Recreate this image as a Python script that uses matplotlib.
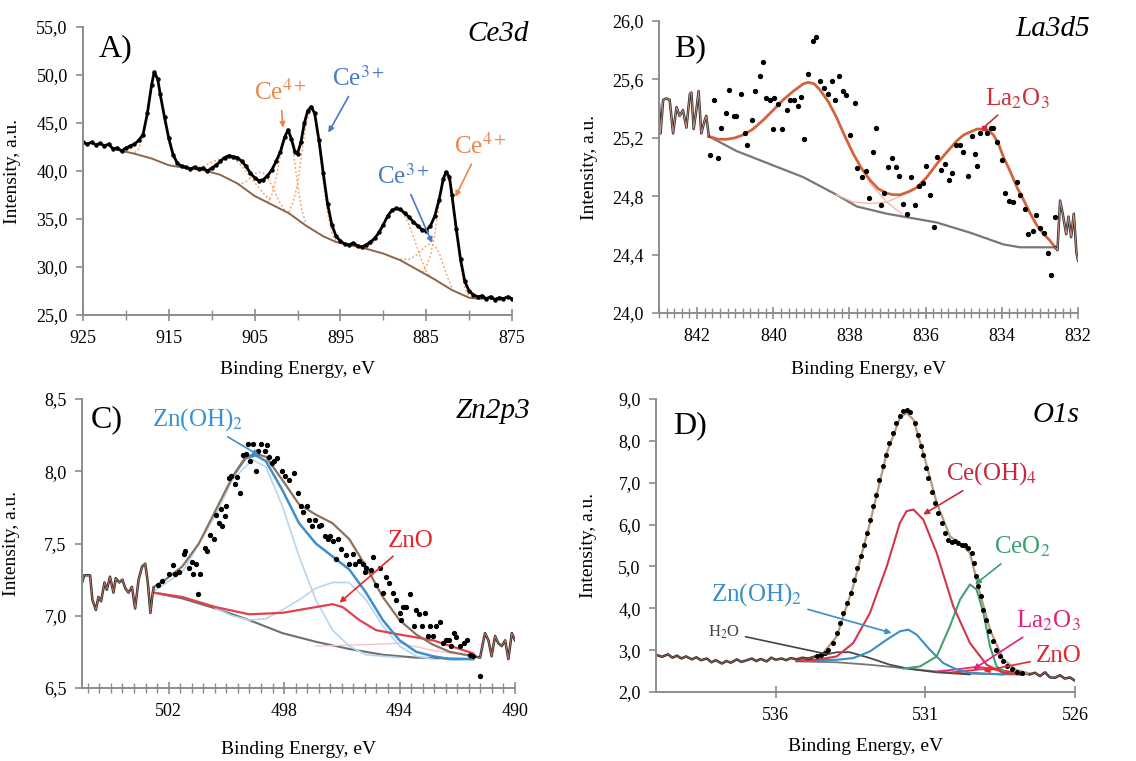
import matplotlib
matplotlib.use('Agg')
import matplotlib.pyplot as plt
from matplotlib.ticker import FixedLocator, FuncFormatter
import numpy as np

plt.rcParams['font.family'] = ['Liberation Serif', 'DejaVu Serif']
plt.rcParams['mathtext.fontset'] = 'stix'

# ---------------- Panel A: Ce3d ----------------
A_E = [925, 924.5, 924, 923.5, 923, 922.5, 922, 921.5, 921, 920.5, 920, 919.5, 919, 918.5, 918,
       917.5, 917, 916.7, 916.3, 916,
       915.5, 915, 914.5, 914, 913.5, 913, 912.5, 912, 911.5, 911, 910.5, 910, 909.5, 909, 908.5,
       908, 907.5, 907, 906.5, 906, 905.5, 905, 904.5, 904, 903.5, 903, 902.5, 902, 901.5,
       901.1, 900.7, 900.3, 900, 899.6, 899.2, 898.8, 898.4,
       898, 897.5, 897, 896.5, 896, 895.5, 895, 894.5, 894, 893.5, 893, 892.5, 892, 891.5, 891,
       890.5, 890, 889.5, 889, 888.5, 888, 887.5, 887, 886.5, 886, 885.5, 885, 884.5, 884, 883.5, 883,
       882.7, 882.3,
       882, 881.5, 881, 880.5, 880, 879.5, 879, 878.5, 878, 877.5, 877, 876.5, 876, 875.5, 875]
A_I = [43.0, 42.8, 43.0, 42.7, 42.9, 42.6, 42.8, 42.3, 42.4, 42.1, 42.4, 42.6, 42.8, 43.2, 43.8,
       46.0, 49.0, 50.3, 49.6, 48.0,
       45.6, 43.4, 41.7, 40.8, 40.5, 40.4, 40.2, 40.4, 40.2, 40.3, 40.0, 40.3, 40.6, 41.0, 41.4,
       41.6, 41.5, 41.4, 41.0, 40.5, 39.8, 39.3, 39.0, 39.1, 39.5, 40.1, 41.0, 42.0, 43.5,
       44.3, 43.3, 42.0, 41.8, 43.0, 45.0, 46.3, 46.7,
       46.0, 43.2, 39.8, 36.6, 34.4, 33.2, 32.7, 32.4, 32.3, 32.5, 32.2, 32.1, 32.3, 32.6, 33.0,
       33.6, 34.4, 35.3, 35.9, 36.1, 36.0, 35.6, 35.2, 34.7, 34.3, 33.9, 33.8, 34.3, 35.3, 37.0, 39.2,
       39.9, 39.4,
       37.5, 34.0, 30.8, 28.5, 27.5, 27.1, 26.9, 27.0, 26.7, 26.9, 26.6, 26.8, 26.7, 26.9, 26.7]
A_bg_E = [921, 919, 917, 915, 913, 911, 909, 907, 905, 903, 901, 899, 897, 895.5, 894, 892, 890,
          888, 886, 884, 882, 880, 879, 878, 876.5]
A_bg_I = [42.2, 41.8, 41.3, 40.6, 40.3, 40.1, 39.6, 38.7, 37.4, 36.5, 35.6, 34.3, 33.2, 32.6, 32.3,
          31.9, 31.4, 30.7, 29.7, 28.7, 27.6, 26.8, 26.7, 26.7, 26.7]
A_comp_E = [
    [919, 918.5, 918, 917.5, 917, 916.7, 916.3, 916, 915.5, 915, 914.5, 914, 913.5],
    [912, 911, 910, 909, 908.5, 908, 907.5, 907, 906, 905, 904, 903],
    [907, 906.5, 906, 905.5, 905, 904.5, 904, 903.5, 903, 902.5, 902, 901.5],
    [903.5, 903, 902.5, 902, 901.5, 901.1, 900.7, 900.3, 900, 899.5, 899],
    [901, 900.5, 900, 899.5, 899, 898.4, 898, 897.5, 897, 896.5, 896, 895.5],
    [892, 891, 890, 889.5, 889, 888.5, 888, 887.5, 887, 886.5, 886, 885.5, 885, 884.5],
    [889, 888, 887, 886, 885.5, 885, 884.5, 884, 883.5, 883, 882.5, 882],
    [885.5, 885, 884.5, 884, 883.5, 883, 882.7, 882.3, 882, 881.5, 881, 880.5, 880],
]
A_comp_I = [
    [41.9, 42.3, 43.5, 46.0, 49.0, 50.2, 49.4, 47.8, 45.3, 43.0, 41.6, 40.7, 40.4],
    [40.3, 40.5, 40.9, 41.3, 41.5, 41.5, 41.4, 41.0, 40.0, 38.8, 37.7, 36.8],
    [38.6, 38.7, 38.9, 39.3, 39.7, 39.9, 39.8, 39.3, 38.5, 37.5, 36.6, 35.9],
    [36.7, 37.5, 39.2, 41.6, 43.5, 44.2, 43.2, 40.8, 38.6, 35.9, 34.5],
    [35.7, 36.8, 38.6, 41.8, 45.0, 46.6, 45.8, 42.6, 38.8, 35.6, 33.6, 32.7],
    [32.0, 32.7, 34.4, 35.4, 35.9, 36.1, 35.9, 35.3, 34.4, 33.2, 31.9, 30.6, 29.6, 28.9],
    [31.0, 30.8, 30.8, 31.3, 31.8, 32.2, 32.4, 32.2, 31.5, 30.2, 28.9, 27.8],
    [29.4, 30.0, 31.2, 33.4, 36.5, 39.2, 39.7, 38.8, 37.2, 33.6, 30.2, 27.8, 26.9],
]

# ---------------- Panel B: La3d5 ----------------
B_noiseL_E = [843.0, 842.96, 842.89, 842.81, 842.72, 842.63, 842.54, 842.46, 842.37, 842.28,
              842.19, 842.15, 842.09, 842.02, 841.96, 841.89, 841.80, 841.76, 841.69]
B_noiseL_I = [25.43, 25.23, 25.46, 25.47, 25.46, 25.23, 25.41, 25.35, 25.39, 25.27,
              25.50, 25.51, 25.26, 25.39, 25.52, 25.23, 25.32, 25.35, 25.21]
B_noiseR_E = [832.60, 832.54, 832.47, 832.40, 832.31, 832.25, 832.18, 832.11, 832.04, 832.0]
B_noiseR_I = [24.45, 24.43, 24.77, 24.68, 24.54, 24.66, 24.52, 24.68, 24.41, 24.36]
B_env_E = [841.69, 841.45, 841.23, 841.0, 840.79, 840.53, 840.27, 840.0, 839.74, 839.47, 839.21,
           839.08, 838.93, 838.78, 838.56, 838.34, 838.12, 837.90, 837.68, 837.46, 837.24, 837.02,
           836.85, 836.67, 836.45, 836.23, 835.97, 835.71, 835.45, 835.18, 835.0, 834.83, 834.65,
           834.48, 834.35, 834.22, 834.09, 833.96, 833.78, 833.60, 833.42, 833.25, 833.08, 832.90,
           832.75, 832.60]
B_env_I = [25.21, 25.19, 25.19, 25.20, 25.22, 25.26, 25.32, 25.39, 25.46, 25.52, 25.57,
           25.58, 25.57, 25.53, 25.45, 25.34, 25.21, 25.09, 24.99, 24.91, 24.85, 24.82,
           24.81, 24.81, 24.83, 24.86, 24.93, 25.02, 25.10, 25.18, 25.22, 25.24, 25.26,
           25.26, 25.25, 25.22, 25.16, 25.07, 24.97, 24.86, 24.77, 24.68, 24.60, 24.54,
           24.50, 24.45]
B_bg_E = [841.69, 840.97, 840.09, 839.21, 838.34, 837.81, 837.02, 836.58, 835.71, 834.83, 833.96,
          833.52, 832.60]
B_bg_I = [25.21, 25.11, 25.02, 24.93, 24.81, 24.73, 24.68, 24.66, 24.62, 24.55, 24.47, 24.45, 24.45]
B_c1_E = [838.34, 837.90, 837.46, 837.02, 836.63]
B_c1_I = [25.34, 25.09, 24.89, 24.76, 24.68]
B_c2_E = [838.34, 837.90, 837.46, 837.02, 836.58, 836.23]
B_c2_I = [24.81, 24.76, 24.75, 24.76, 24.81, 24.86]
B_dot_E = [841.55, 841.36, 841.66, 841.45, 841.25, 841.16, 841.04, 840.98, 840.86, 840.73, 840.68,
           840.57, 840.47, 840.35, 840.27, 840.18, 840.09, 839.99, 840.00, 839.87, 839.77, 839.65,
           839.56, 839.46, 839.36, 839.26, 839.19, 839.08, 838.97, 838.88, 838.78, 838.67, 838.57,
           838.47, 838.38, 838.27, 838.18, 838.09, 837.99, 837.86, 837.79, 837.68, 837.57, 837.49,
           837.39, 837.29, 837.18, 837.09, 836.98, 836.89, 836.78, 836.69, 836.60, 836.48, 836.39,
           836.28, 836.17, 836.08, 835.99, 835.88, 835.78, 835.71, 835.60, 835.49, 835.38, 835.31,
           835.20, 835.11, 835.01, 834.90, 834.79, 834.70, 834.64, 834.57, 834.48, 834.39, 834.29,
           834.22, 834.13, 834.00, 833.91, 833.80, 833.71, 833.60, 833.52, 833.39, 833.30, 833.19,
           833.10, 833.01, 832.90, 832.80, 832.70, 832.60]
B_dot_I = [25.46, 25.27, 25.08, 25.06, 25.37, 25.53, 25.35, 25.35, 25.50, 25.23, 25.15,
           25.32, 25.52, 25.62, 25.72, 25.47, 25.46, 25.47, 25.26, 25.43, 25.26, 25.39,
           25.46, 25.46, 25.42, 25.48, 25.19, 25.64, 25.86, 25.89, 25.59, 25.54, 25.50,
           25.59, 25.46, 25.62, 25.52, 25.49, 25.22, 25.44, 24.99, 24.93, 24.97, 24.79,
           25.10, 25.27, 24.74, 24.82, 25.00, 25.06, 25.00, 24.94, 24.75, 24.68, 24.93,
           24.74, 24.87, 24.89, 25.01, 24.81, 24.59, 25.07, 24.98, 25.02, 24.91, 24.96,
           25.15, 25.15, 25.10, 24.94, 25.21, 25.09, 25.01, 25.23, 25.27, 25.23, 25.27,
           25.27, 25.17, 25.05, 24.82, 24.77, 24.76, 24.90, 24.81, 24.71, 24.54, 24.56,
           24.67, 24.58, 24.55, 24.41, 24.26, 24.66]

# ---------------- Panel C: Zn2p3 ----------------
C_noiseL_E = [505.0, 504.92, 504.72, 504.64, 504.52, 504.43, 504.34, 504.22, 504.14, 504.03, 503.91,
              503.83, 503.71, 503.60, 503.50, 503.39, 503.27, 503.16, 503.04, 502.92, 502.81, 502.72,
              502.63, 502.55, 502.52]
C_noiseL_I = [7.23, 7.28, 7.28, 7.11, 7.04, 7.13, 7.10, 7.23, 7.18, 7.27, 7.16, 7.26, 7.23, 7.25,
              7.19, 7.16, 7.20, 7.05, 7.25, 7.34, 7.36, 7.23, 7.02, 7.16, 7.19]
C_noiseR_E = [491.45, 491.21, 491.04, 490.92, 490.81, 490.69, 490.58, 490.46, 490.34, 490.23, 490.11, 490.0]
C_noiseR_I = [6.72, 6.71, 6.88, 6.83, 6.72, 6.86, 6.81, 6.79, 6.83, 6.70, 6.88, 6.83]
C_env_E = [502.52, 502.11, 501.53, 500.95, 500.37, 499.79, 499.33, 498.98, 498.63, 498.06, 497.48,
           496.90, 496.32, 495.74, 495.16, 494.58, 494.00, 493.42, 492.84, 492.26, 491.45]
C_env_I = [7.20, 7.25, 7.34, 7.50, 7.73, 7.96, 8.10, 8.12, 8.10, 7.94, 7.77, 7.70, 7.64, 7.53, 7.34,
           7.13, 6.97, 6.87, 6.80, 6.75, 6.72]
C_blue_E = [499.79, 499.33, 498.98, 498.63, 498.06, 497.48, 496.90, 496.32, 495.74, 495.16, 494.58,
            494.00, 493.42, 492.84, 492.26, 491.45]
C_blue_I = [7.96, 8.09, 8.11, 8.07, 7.87, 7.64, 7.50, 7.41, 7.32, 7.16, 6.97, 6.83, 6.75, 6.72, 6.70, 6.70]
C_lb1_E = [502.52, 501.53, 500.37, 499.79, 499.10, 498.63, 498.06, 497.48, 496.90, 496.32, 495.74,
           495.16, 494.00]
C_lb1_I = [7.17, 7.30, 7.70, 7.94, 8.08, 8.03, 7.76, 7.41, 7.11, 6.90, 6.79, 6.73, 6.71]
C_lb2_E = [500.37, 499.79, 499.21, 498.63, 498.06, 497.48, 496.90, 496.32, 495.74, 495.16, 494.58,
           494.00, 493.42, 492.84]
C_lb2_I = [7.05, 7.00, 6.97, 6.98, 7.04, 7.11, 7.19, 7.23, 7.23, 7.11, 6.93, 6.79, 6.72, 6.70]
C_red_E = [502.52, 501.53, 500.37, 499.21, 498.06, 496.90, 496.32, 495.97, 495.39, 494.81, 494.00,
           492.84, 491.45]
C_red_I = [7.16, 7.13, 7.06, 7.01, 7.02, 7.06, 7.08, 7.06, 6.97, 6.90, 6.87, 6.83, 6.74]
C_bg_E = [502.52, 501.53, 500.37, 499.21, 498.06, 496.90, 495.74, 494.58, 493.42, 491.45]
C_bg_I = [7.16, 7.12, 7.05, 6.97, 6.88, 6.82, 6.77, 6.73, 6.71, 6.70]
C_pink_E = [496.90, 495.16, 494.00, 492.84, 491.45]
C_pink_I = [6.79, 6.80, 6.81, 6.76, 6.72]
C_dot_E = [502.37, 502.23, 502.00, 501.86, 501.77, 501.65, 501.48, 501.42, 501.30, 501.19, 501.15,
           501.05, 500.98, 500.90, 500.74, 500.68, 500.55, 500.43, 500.37, 500.26, 500.20, 500.14,
           500.05, 500.00, 499.91, 499.83, 499.70, 499.62, 499.54, 499.42, 499.31, 499.24, 499.19,
           499.08, 498.98, 498.90, 498.79, 498.67, 498.58, 498.52, 498.43, 498.35, 498.23, 498.08,
           497.96, 497.82, 497.65, 497.53, 497.42, 497.34, 497.22, 497.13, 497.03, 496.92, 496.80,
           496.72, 496.57, 496.49, 496.41, 496.32, 496.20, 496.14, 496.03, 495.85, 495.76, 495.62,
           495.53, 495.39, 495.27, 495.21, 495.16, 494.98, 494.92, 494.81, 494.69, 494.58, 494.46,
           494.37, 494.23, 494.11, 494.00, 493.94, 493.88, 493.77, 493.63, 493.51, 493.42, 493.32,
           493.21, 493.13, 493.01, 492.95, 492.84, 492.72, 492.61, 492.49, 492.40, 492.28, 492.20,
           492.12, 492.03, 491.91, 491.77, 491.68, 491.56, 491.45, 491.21]
C_dot_I = [7.21, 7.24, 7.29, 7.35, 7.29, 7.30, 7.43, 7.45, 7.33, 7.37, 7.29,
           7.36, 7.15, 7.29, 7.47, 7.45, 7.56, 7.53, 7.70, 7.64, 7.74, 7.62,
           7.69, 7.76, 7.95, 7.97, 7.91, 7.96, 7.85, 8.11, 8.12, 8.19, 8.07,
           8.19, 8.00, 8.14, 8.19, 8.14, 8.18, 8.10, 8.06, 8.07, 8.09, 8.00,
           7.97, 7.94, 7.99, 7.85, 7.76, 7.72, 7.76, 7.66, 7.62, 7.66, 7.62,
           7.63, 7.55, 7.53, 7.55, 7.52, 7.39, 7.53, 7.46, 7.42, 7.36, 7.43,
           7.36, 7.38, 7.36, 7.30, 7.33, 7.32, 7.41, 7.21, 7.33, 7.16, 7.27,
           7.23, 7.16, 7.11, 7.02, 6.97, 7.06, 7.06, 7.15, 6.93, 7.04, 7.01,
           6.93, 7.02, 6.86, 6.93, 6.86, 6.93, 6.96, 6.81, 6.83, 6.83, 6.79,
           6.88, 6.85, 6.79, 6.81, 6.83, 6.73, 6.72, 6.58]

# ---------------- Panel D: O1s ----------------
D_noiseL_E = [540.0, 539.8, 539.6, 539.45, 539.3, 539.15, 539.0, 538.8, 538.65, 538.5,
              538.3, 538.15, 538.0, 537.8, 537.65, 537.5, 537.3, 537.15, 537.0, 536.8,
              536.65, 536.5, 536.3, 536.15, 536.0, 535.8, 535.65, 535.5, 535.3, 535.1, 534.9, 534.7]
D_noiseL_I = [2.89, 2.84, 2.90, 2.82, 2.87, 2.80, 2.85, 2.78, 2.83, 2.76,
              2.80, 2.71, 2.76, 2.68, 2.74, 2.70, 2.78, 2.72, 2.75, 2.80,
              2.74, 2.79, 2.73, 2.82, 2.77, 2.80, 2.76, 2.81, 2.78, 2.82, 2.79, 2.84]
D_noiseR_E = [527.51, 527.34, 527.17, 527.0, 526.84, 526.67, 526.50, 526.34, 526.17, 526.0]
D_noiseR_I = [2.42, 2.46, 2.38, 2.47, 2.35, 2.34, 2.40, 2.32, 2.35, 2.27]
D_dot_E = [534.63, 534.50, 534.35, 534.24, 534.08, 533.96, 533.85, 533.74, 533.63, 533.50, 533.39,
           533.27, 533.16, 533.05, 532.96, 532.85, 532.74, 532.65, 532.54, 532.43, 532.32, 532.20,
           532.09, 531.98, 531.85, 531.74, 531.63, 531.51, 531.35, 531.24, 531.16, 531.07, 530.98,
           530.90, 530.79, 530.68, 530.57, 530.46, 530.35, 530.23, 530.12, 530.01, 529.90, 529.79,
           529.68, 529.57, 529.45, 529.38, 529.31, 529.23, 529.15, 529.06, 528.98, 528.86, 528.75,
           528.64, 528.51, 528.40, 528.26, 528.12, 527.95, 527.78]
D_dot_I = [2.85, 2.89, 2.93, 3.01, 3.17, 3.41, 3.65, 3.89, 4.13, 4.37, 4.68,
           4.96, 5.24, 5.52, 5.80, 6.12, 6.44, 6.71, 7.07, 7.39, 7.67, 7.95,
           8.19, 8.43, 8.59, 8.71, 8.73, 8.69, 8.43, 8.15, 7.87, 7.67, 7.35,
           7.11, 6.79, 6.52, 6.28, 6.04, 5.80, 5.64, 5.58, 5.60, 5.56, 5.52,
           5.52, 5.44, 5.32, 5.08, 4.76, 4.53, 4.29, 3.97, 3.73, 3.45, 3.21,
           3.01, 2.85, 2.73, 2.61, 2.54, 2.47, 2.46]
D_env_E = [535.30, 534.86, 534.41, 533.96, 533.41, 532.85, 532.29, 531.85, 531.63, 531.40, 531.07,
           530.62, 530.18, 529.73, 529.51, 529.18, 528.84, 528.40, 527.95, 527.51]
D_env_I = [2.78, 2.81, 2.93, 3.33, 4.53, 6.04, 7.71, 8.55, 8.67, 8.51, 7.71,
           6.52, 5.72, 5.48, 5.32, 4.37, 3.49, 2.78, 2.52, 2.44]
D_ceoh_E = [535.30, 534.63, 533.96, 533.41, 532.85, 532.29, 531.85, 531.63, 531.40, 531.07, 530.62,
            530.07, 529.51, 528.95, 528.40, 527.84]
D_ceoh_I = [2.74, 2.77, 2.85, 3.17, 3.89, 5.00, 6.04, 6.32, 6.36, 6.12, 5.32, 4.05, 3.17, 2.65, 2.46, 2.42]
D_znoh_E = [535.30, 533.96, 533.41, 532.85, 532.29, 531.85, 531.57, 531.29, 530.85, 530.40, 529.96,
            529.51, 528.40]
D_znoh_I = [2.74, 2.77, 2.81, 2.97, 3.25, 3.45, 3.49, 3.37, 3.01, 2.69, 2.54, 2.46, 2.42]
D_ceo2_E = [531.74, 531.18, 530.62, 530.18, 529.84, 529.51, 529.29, 529.06, 528.84, 528.62, 528.29, 527.84]
D_ceo2_I = [2.56, 2.61, 2.85, 3.57, 4.21, 4.57, 4.45, 3.89, 3.09, 2.61, 2.46, 2.42]
D_h2o_E = [535.30, 534.63, 533.96, 533.52, 532.85, 532.18, 531.51, 530.62, 529.51]
D_h2o_I = [2.76, 2.85, 2.95, 2.95, 2.81, 2.65, 2.55, 2.47, 2.42]
D_bg_E = [535.30, 533.96, 532.85, 531.74, 530.62, 529.51, 528.40, 527.51]
D_bg_I = [2.73, 2.71, 2.65, 2.57, 2.49, 2.44, 2.42, 2.42]
D_la_E = [530.62, 529.84, 529.29, 528.62, 527.84]
D_la_I = [2.49, 2.55, 2.60, 2.55, 2.43]
D_zno_E = [530.07, 529.18, 528.84, 528.40, 527.73]
D_zno_I = [2.47, 2.54, 2.55, 2.51, 2.43]

# ---------------- Figure ----------------
fig = plt.figure(figsize=(11.36, 7.61), dpi=100)
W, H = 1136.0, 761.0
axA = fig.add_axes([83 / W, (H - 315) / H, 429 / W, 288 / H])
axB = fig.add_axes([659 / W, (H - 313) / H, 419 / W, 292 / H])
axC = fig.add_axes([82 / W, (H - 688) / H, 433 / W, 289 / H])
axD = fig.add_axes([656 / W, (H - 692) / H, 419 / W, 293 / H])

comma = FuncFormatter(lambda v, p: ('%.1f' % v).replace('.', ','))
intfmt = FuncFormatter(lambda v, p: '%d' % round(v))
SPINE = '#8c8c8c'
SERIF = 'Liberation Serif'


def style(ax, xlim, ylim, xmaj, xmin, ymaj, xlab_y, ylab_x):
    ax.set_xlim(*xlim)
    ax.set_ylim(*ylim)
    for s in ['top', 'right']:
        ax.spines[s].set_visible(False)
    for s in ['left', 'bottom']:
        ax.spines[s].set_color(SPINE)
        ax.spines[s].set_linewidth(1.4)
    ax.xaxis.set_major_locator(FixedLocator(xmaj))
    if xmin is not None:
        ax.xaxis.set_minor_locator(FixedLocator(xmin))
    ax.yaxis.set_major_locator(FixedLocator(ymaj))
    ax.yaxis.set_major_formatter(comma)
    ax.xaxis.set_major_formatter(intfmt)
    ax.tick_params(axis='x', which='major', direction='inout', length=9, width=1.2,
                   color=SPINE, labelsize=13, pad=6, labelfontfamily=SERIF)
    ax.tick_params(axis='x', which='minor', direction='inout', length=7, width=1.0, color=SPINE)
    ax.tick_params(axis='y', which='major', direction='out', length=5, width=1.2,
                   color=SPINE, labelsize=13, pad=6, labelfontfamily=SERIF)
    ax.set_xlabel('Binding Energy, eV', fontsize=14, family=SERIF)
    ax.set_ylabel('Intensity, a.u.', fontsize=14, family=SERIF)
    ax.xaxis.set_label_coords(0.5, xlab_y)
    ax.yaxis.set_label_coords(ylab_x, 0.5)
    ax.set_facecolor('none')


# ---- A ----
style(axA, (925, 875), (25, 55), [925, 915, 905, 895, 885, 875], np.arange(875, 926, 5),
      [25, 30, 35, 40, 45, 50, 55], -0.158, -0.145)
for ce, ci in zip(A_comp_E, A_comp_I):
    axA.plot(ce, ci, color='#f2a46c', lw=1.0, ls=(0, (1.5, 1.5)))
axA.plot(A_bg_E, A_bg_I, color='#8e6548', lw=1.4)
axA.plot(A_E, A_I, color='black', lw=2.0)
axA.plot(A_E, A_I, 'o', color='black', ms=2.2)
OR = '#e8884c'
BL = '#4a78c8'
akw = dict(arrowstyle='-|>', lw=1.2, mutation_scale=8, shrinkA=2, shrinkB=0)
axA.annotate(r'Ce$^{4+}$', xy=(901.7, 44.5), xytext=(902.0, 48.2), color=OR, fontsize=18,
             ha='center', va='center', arrowprops=dict(color=OR, **akw))
axA.annotate(r'Ce$^{3+}$', xy=(896.4, 44.0), xytext=(892.9, 49.6), color=BL, fontsize=18,
             ha='center', va='center', arrowprops=dict(color=BL, **akw))
axA.annotate(r'Ce$^{3+}$', xy=(884.3, 32.5), xytext=(887.7, 39.4), color=BL, fontsize=18,
             ha='center', va='center', arrowprops=dict(color=BL, **akw))
axA.annotate(r'Ce$^{4+}$', xy=(881.6, 37.3), xytext=(878.7, 42.6), color=OR, fontsize=18,
             ha='center', va='center', arrowprops=dict(color=OR, **akw), annotation_clip=False)
axA.text(0.075, 0.925, 'A)', transform=axA.transAxes, fontsize=23, ha='center', va='center')
axA.text(1.04, 0.975, 'Ce3d', transform=axA.transAxes, fontsize=21, style='italic',
         ha='right', va='center')

# ---- B ----
style(axB, (843, 832), (24.0, 26.0), [842, 840, 838, 836, 834, 832], np.arange(832, 843.01, 0.2),
      [24.0, 24.4, 24.8, 25.2, 25.6, 26.0], -0.164, -0.145)
axB.plot(B_bg_E, B_bg_I, color='#777777', lw=1.6)
axB.plot(B_c1_E, B_c1_I, color='#f3b9ad', lw=1.0)
axB.plot(B_c2_E, B_c2_I, color='#f3b9ad', lw=1.0)
axB.plot(B_env_E, B_env_I, color='#d2643c', lw=2.0)
for ne, ni in [(B_noiseL_E, B_noiseL_I), (B_noiseR_E, B_noiseR_I)]:
    axB.plot(ne, ni, color='#2a2a2a', lw=1.8)
    axB.plot(ne, ni, color='#c89080', lw=0.7)
axB.plot(B_dot_E, B_dot_I, 'o', color='black', ms=2.8)
RD = '#c8303a'
axB.plot([834.48], [25.27], 's', color=RD, ms=3)
axB.annotate(r'La$_2$O$_3$', xy=(834.48, 25.27), xytext=(833.6, 25.47), color=RD, fontsize=18,
             ha='center', va='center', arrowprops=dict(color=RD, arrowstyle='-', lw=1.2))
axB.text(0.075, 0.905, 'B)', transform=axB.transAxes, fontsize=23, ha='center', va='center')
axB.text(1.03, 0.972, 'La3d5', transform=axB.transAxes, fontsize=21, style='italic',
         ha='right', va='center')

# ---- C ----
style(axC, (505, 490), (6.5, 8.5), [502, 498, 494, 490], np.arange(490, 505.01, 0.4),
      [6.5, 7.0, 7.5, 8.0, 8.5], -0.183, -0.143)
axC.plot(C_bg_E, C_bg_I, color='#6f6f6f', lw=1.5)
axC.plot(C_pink_E, C_pink_I, color='#f4c4c4', lw=1.0)
axC.plot(C_lb1_E, C_lb1_I, color='#b6d6ee', lw=1.2)
axC.plot(C_lb2_E, C_lb2_I, color='#b6d6ee', lw=1.2)
axC.plot(C_red_E, C_red_I, color='#e2424c', lw=1.6)
axC.plot(C_blue_E, C_blue_I, color='#3d8fd0', lw=1.8)
axC.plot(C_env_E, C_env_I, color='#8d735e', lw=1.6)
for ne, ni in [(C_noiseL_E, C_noiseL_I), (C_noiseR_E, C_noiseR_I)]:
    axC.plot(ne, ni, color='#2a2a2a', lw=1.8)
    axC.plot(ne, ni, color='#c07060', lw=0.7)
axC.plot(C_dot_E, C_dot_I, 'o', color='black', ms=2.8)
ZB = '#3a92d2'
ZR = '#e8262e'
axC.annotate(r'Zn(OH)$_2$', xy=(498.87, 8.11), xytext=(500.98, 8.36), color=ZB, fontsize=18,
             ha='center', va='center', arrowprops=dict(color=ZB, **akw))
axC.annotate('ZnO', xy=(496.08, 7.09), xytext=(493.6, 7.52), color=ZR, fontsize=18,
             ha='center', va='center', arrowprops=dict(color=ZR, **akw))
axC.text(0.058, 0.93, 'C)', transform=axC.transAxes, fontsize=23, ha='center', va='center')
axC.text(1.035, 0.96, 'Zn2p3', transform=axC.transAxes, fontsize=21, style='italic',
         ha='right', va='center')

# ---- D ----
style(axD, (540, 526), (2.0, 9.0), [536, 531, 526], None,
      [2, 3, 4, 5, 6, 7, 8, 9], -0.157, -0.141)
axD.plot(D_bg_E, D_bg_I, color='#777777', lw=1.3)
axD.plot(D_h2o_E, D_h2o_I, color='#4a4a4a', lw=1.3)
axD.plot(D_la_E, D_la_I, color='#e0287e', lw=1.3)
axD.plot(D_zno_E, D_zno_I, color='#e83030', lw=1.3)
axD.plot(D_znoh_E, D_znoh_I, color='#3a8fc8', lw=1.5)
axD.plot(D_ceo2_E, D_ceo2_I, color='#45a072', lw=1.5)
axD.plot(D_ceoh_E, D_ceoh_I, color='#d03848', lw=1.5)
axD.plot(D_env_E, D_env_I, color='#b8987a', lw=1.6)
for ne, ni in [(D_noiseL_E, D_noiseL_I), (D_noiseR_E, D_noiseR_I)]:
    axD.plot(ne, ni, color='#2a2a2a', lw=1.8)
    axD.plot(ne, ni, color='#b06050', lw=0.6)
axD.plot(D_dot_E, D_dot_I, 'o', color='black', ms=2.6)
axD.annotate(r'Ce(OH)$_4$', xy=(531.07, 6.24), xytext=(528.77, 7.23), color='#c8283c', fontsize=18,
             ha='center', va='center', arrowprops=dict(color='#c8283c', **akw))
axD.annotate(r'CeO$_2$', xy=(529.34, 4.57), xytext=(527.77, 5.46), color='#3aa070', fontsize=18,
             ha='center', va='center', arrowprops=dict(color='#3aa070', **akw),
             annotation_clip=False)
axD.annotate(r'Zn(OH)$_2$', xy=(532.13, 3.41), xytext=(536.63, 4.32), color='#3a8fc8', fontsize=18,
             ha='center', va='center', arrowprops=dict(color='#3a8fc8', **akw))
axD.annotate(r'H$_2$O', xy=(534.19, 2.89), xytext=(537.73, 3.43), color='#444444', fontsize=12,
             ha='center', va='center', arrowprops=dict(color='#444444', arrowstyle='-', lw=1.2))
axD.annotate(r'La$_2$O$_3$', xy=(529.40, 2.54), xytext=(526.9, 3.70), color='#e0207a', fontsize=18,
             ha='center', va='center', arrowprops=dict(color='#e0207a', **akw),
             annotation_clip=False)
axD.annotate('ZnO', xy=(529.06, 2.50), xytext=(526.55, 2.86), color='#e8262e', fontsize=18,
             ha='center', va='center', arrowprops=dict(color='#e8262e', **akw),
             annotation_clip=False)
axD.text(0.081, 0.91, 'D)', transform=axD.transAxes, fontsize=23, ha='center', va='center')
axD.text(1.01, 0.945, 'O1s', transform=axD.transAxes, fontsize=21, style='italic',
         ha='right', va='center')

fig.savefig('out.png', dpi=100)
